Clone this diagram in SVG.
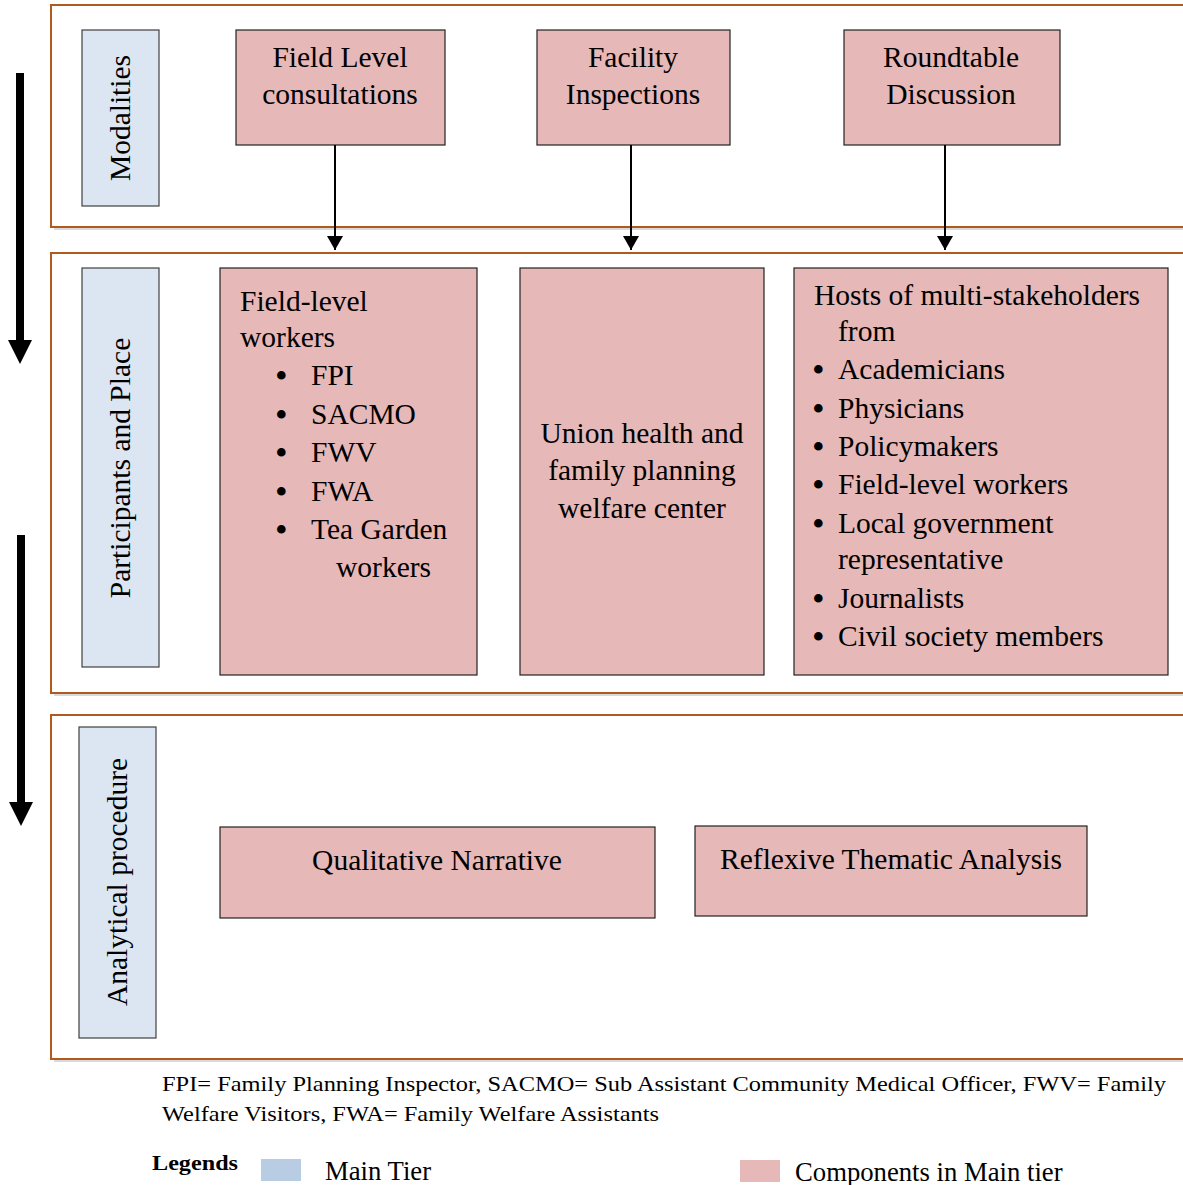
<svg xmlns="http://www.w3.org/2000/svg" width="1183" height="1185" viewBox="0 0 1183 1185">
<style>
text{font-family:"Liberation Serif","Times New Roman",serif;fill:#000}
.t{font-size:29.5px}
.c{text-anchor:middle}
.b{font-size:36px}
.tier{fill:#fff;stroke:#b05a1e;stroke-width:2}
.shadow{fill:#d9d9d9}
.lab{fill:#dce6f2;stroke:#404040;stroke-width:1.2}
.comp{fill:#e6b8b7;stroke:#222;stroke-width:1.2}
.con{stroke:#000;stroke-width:2;fill:none}
.big{stroke:#000;stroke-width:8;fill:none}
.fn{font-size:22px}
.lg{font-size:26.7px}
</style>
<defs>
<marker id="ah" markerWidth="8" markerHeight="8" refX="7" refY="4" orient="auto" markerUnits="strokeWidth">
<path d="M0,0 L7,4 L0,8 Z" fill="#000"/>
</marker>
</defs>
<rect width="1183" height="1185" fill="#fff"/>
<g id="tiers">
<rect class="shadow" x="54" y="8" width="1135" height="222"/>
<rect class="tier" x="51" y="5" width="1135" height="222"/>
<rect class="shadow" x="54" y="256" width="1135" height="440"/>
<rect class="tier" x="51" y="253" width="1135" height="440"/>
<rect class="shadow" x="54" y="718" width="1135" height="344"/>
<rect class="tier" x="51" y="715" width="1135" height="344"/>
</g>
<g id="flow-arrows">
<line class="big" x1="20" y1="73" x2="20" y2="342"/>
<path d="M8,340 L32,340 L20,364 Z" fill="#000"/>
<line class="big" x1="21" y1="535" x2="21" y2="804"/>
<path d="M9,802 L33,802 L21,826 Z" fill="#000"/>
</g>
<g id="label-modalities">
<rect class="lab" x="82" y="30" width="77" height="176"/>
<text class="t c" transform="translate(130,118) rotate(-90)">Modalities</text>
</g>
<g id="label-participants">
<rect class="lab" x="82" y="268" width="77" height="399"/>
<text class="t c" transform="translate(130,468) rotate(-90)">Participants and Place</text>
</g>
<g id="label-analytical">
<rect class="lab" x="79" y="727" width="77" height="311"/>
<text class="t c" transform="translate(127,882) rotate(-90)">Analytical procedure</text>
</g>
<g id="node-field-level">
<rect class="comp" x="236" y="30" width="209" height="115"/>
<text class="t c" x="340" y="67">Field Level</text>
<text class="t c" x="340" y="104">consultations</text>
</g>
<g id="node-facility">
<rect class="comp" x="537" y="30" width="193" height="115"/>
<text class="t c" x="633" y="67">Facility</text>
<text class="t c" x="633" y="104">Inspections</text>
</g>
<g id="node-roundtable">
<rect class="comp" x="844" y="30" width="216" height="115"/>
<text class="t c" x="951" y="67">Roundtable</text>
<text class="t c" x="951" y="104">Discussion</text>
</g>
<g id="node-workers">
<rect class="comp" x="220" y="268" width="257" height="407"/>
<text class="t" x="240" y="311">Field-level</text>
<text class="t" x="240" y="347">workers</text>
<g class="b">
<text x="275" y="388">•</text>
<text x="275" y="427">•</text>
<text x="275" y="465">•</text>
<text x="275" y="504">•</text>
<text x="275" y="542">•</text>
</g>
<g class="t">
<text x="311" y="385">FPI</text>
<text x="311" y="424">SACMO</text>
<text x="311" y="462">FWV</text>
<text x="311" y="501">FWA</text>
<text x="311" y="539">Tea Garden</text>
<text x="336" y="577">workers</text>
</g>
</g>
<g id="node-union">
<rect class="comp" x="520" y="268" width="244" height="407"/>
<text class="t c" x="642" y="443">Union health and</text>
<text class="t c" x="642" y="480">family planning</text>
<text class="t c" x="642" y="518">welfare center</text>
</g>
<g id="node-hosts">
<rect class="comp" x="794" y="268" width="374" height="407"/>
<g class="t">
<text x="814" y="305">Hosts of multi-stakeholders</text>
<text x="838" y="341">from</text>
<text x="838" y="379">Academicians</text>
<text x="838" y="418">Physicians</text>
<text x="838" y="456">Policymakers</text>
<text x="838" y="494">Field-level workers</text>
<text x="838" y="533">Local government</text>
<text x="838" y="569">representative</text>
<text x="838" y="608">Journalists</text>
<text x="838" y="646">Civil society members</text>
</g>
<g class="b">
<text x="812" y="382">•</text>
<text x="812" y="421">•</text>
<text x="812" y="459">•</text>
<text x="812" y="497">•</text>
<text x="812" y="536">•</text>
<text x="812" y="611">•</text>
<text x="812" y="649">•</text>
</g>
</g>
<g id="node-qualitative">
<rect class="comp" x="220" y="827" width="435" height="91"/>
<text class="t c" x="437" y="870">Qualitative Narrative</text>
</g>
<g id="node-reflexive">
<rect class="comp" x="695" y="826" width="392" height="90"/>
<text class="t c" x="891" y="869">Reflexive Thematic Analysis</text>
</g>
<g id="connectors">
<line class="con" x1="335" y1="145" x2="335" y2="250" marker-end="url(#ah)"/>
<line class="con" x1="631" y1="145" x2="631" y2="250" marker-end="url(#ah)"/>
<line class="con" x1="945" y1="145" x2="945" y2="250" marker-end="url(#ah)"/>
</g>
<g id="footnote">
<text class="fn" x="162" y="1091" textLength="1004" lengthAdjust="spacingAndGlyphs">FPI= Family Planning Inspector, SACMO= Sub Assistant Community Medical Officer, FWV= Family</text>
<text class="fn" x="162" y="1121" textLength="497" lengthAdjust="spacingAndGlyphs">Welfare Visitors, FWA= Family Welfare Assistants</text>
</g>
<g id="legend">
<text x="152" y="1170" font-size="22" font-weight="bold" textLength="86" lengthAdjust="spacingAndGlyphs">Legends</text>
<rect x="261" y="1159" width="40" height="22" fill="#b8cce4"/>
<text class="lg" x="325" y="1180">Main Tier</text>
<rect x="740" y="1160" width="40" height="22" fill="#e6b8b7"/>
<text class="lg" x="795" y="1181">Components in Main tier</text>
</g>
</svg>
